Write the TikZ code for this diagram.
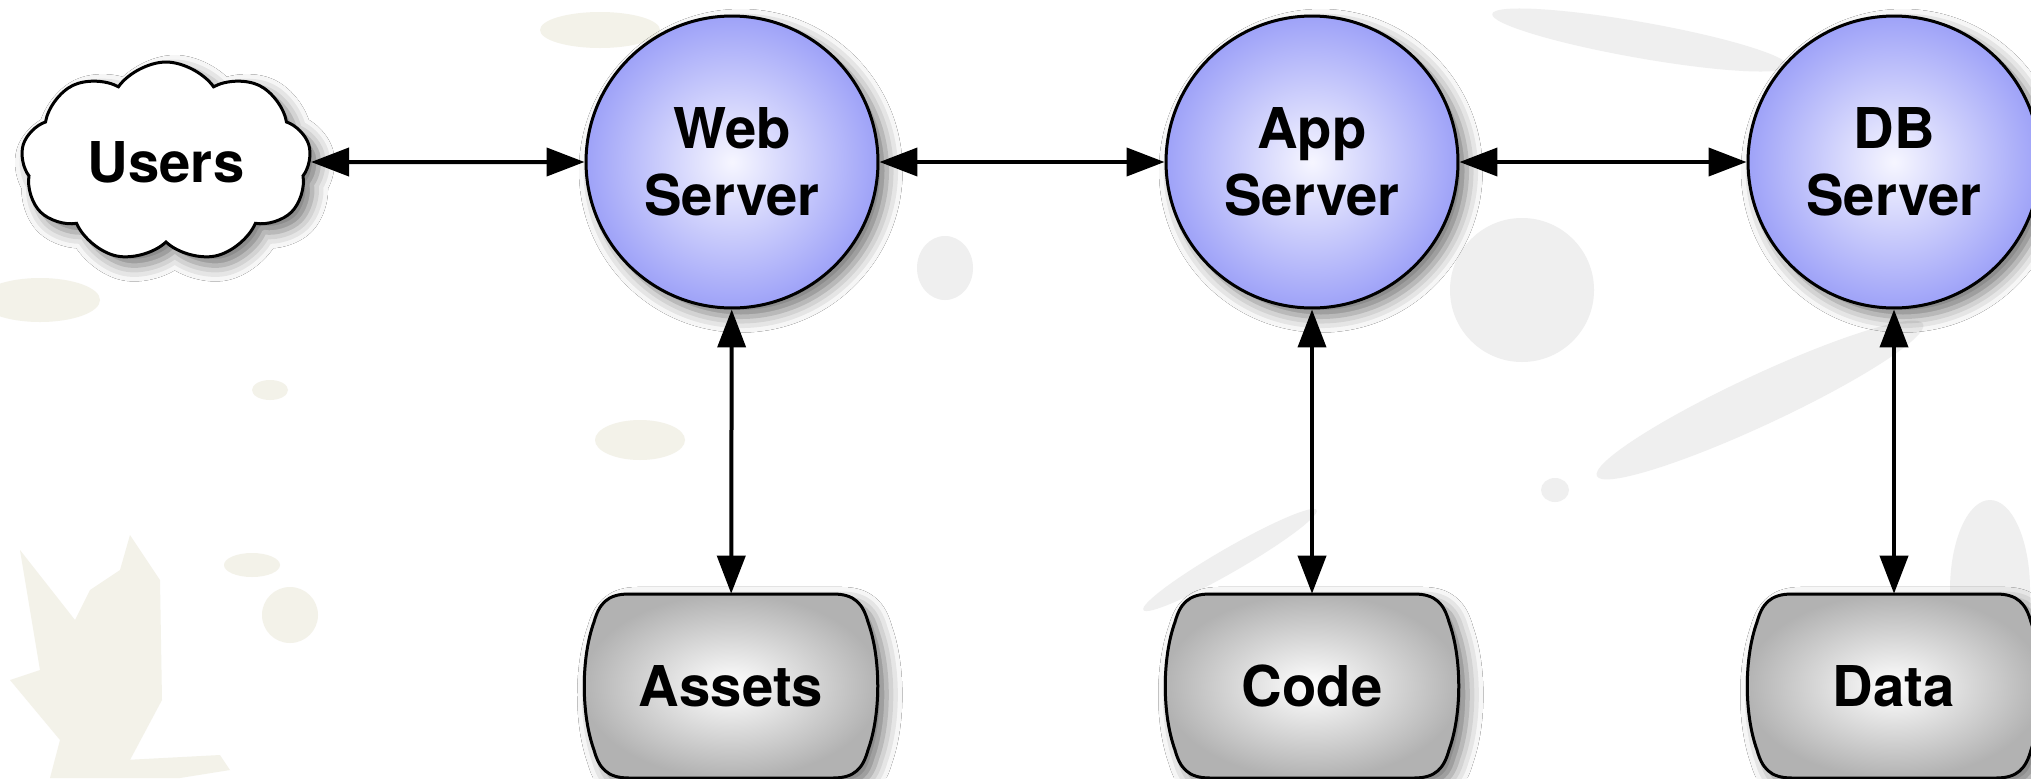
\documentclass[tikz,border=0pt]{standalone}
\usepackage{fontspec}
\setmainfont{TeX Gyre Heros}
\usetikzlibrary{arrows.meta,shapes.symbols,shadows.blur,backgrounds}

\definecolor{srvblue}{RGB}{158,162,248}
\definecolor{srvcenter}{RGB}{246,246,255}
\definecolor{storegray}{RGB}{178,178,178}
\definecolor{splatbeige}{RGB}{243,242,233}
\definecolor{splatgray}{RGB}{239,239,239}

\tikzset{
	labelfont/.style={font=\fontsize{32}{38}\selectfont\bfseries},
	soft shadow/.style={blur shadow={shadow xshift=5pt, shadow yshift=-5pt, shadow blur radius=9pt, shadow opacity=55}},
	server/.style={circle, draw=black, line width=0.06cm, minimum size=5.84cm, inner sep=0pt,
		inner color=srvcenter, outer color=srvblue, soft shadow, align=center, labelfont},
	users/.style={cloud, cloud puffs=9, cloud puff arc=110, cloud ignores aspect, draw=black, line width=0.06cm,
		minimum width=5.8cm, minimum height=4cm, fill=white, soft shadow, labelfont},
	store/.style={rectangle, minimum width=5.86cm, minimum height=3.68cm, inner sep=0pt, labelfont},
	link/.style={line width=0.08cm, {Triangle[length=0.76cm, width=0.56cm]}-{Triangle[length=0.76cm, width=0.56cm]}},
	pics/storeshape/.style={code={
		\path[draw=black, line width=0.06cm, inner color=white, outer color=storegray, soft shadow]
			(-102,-92) -- (102,-92)
			.. controls (124,-92) and (132,-82) .. (137,-64)
			.. controls (150,-28) and (150,28) .. (137,64)
			.. controls (132,82) and (124,92) .. (102,92)
			-- (-102,92)
			.. controls (-124,92) and (-132,82) .. (-137,64)
			.. controls (-150,28) and (-150,-28) .. (-137,-64)
			.. controls (-132,-82) and (-124,-92) .. (-102,-92) -- cycle;
	}}
}

\begin{document}
\begin{tikzpicture}[x=0.02cm, y=-0.02cm]
	\useasboundingbox (0,0) rectangle (2031,778);
	\clip (0,0) rectangle (2031,778);

	% Nodos
	\node[users] (users) at (166,162) {Users};
	\node[server] (web) at (732,162) {Web\\Server};
	\node[server] (app) at (1312,162) {App\\Server};
	\node[server] (db) at (1894,162) {DB\\Server};

	\node[store] (assets) at (731,686) {Assets};
	\node[store] (code) at (1312,686) {Code};
	\node[store] (data) at (1894,686) {Data};

	% Fondo y almacenes
	\begin{scope}[on background layer]
		\fill[white] (0,0) rectangle (2031,778);
		\fill[splatbeige] (20,550) -- (75,620) -- (90,590) -- (120,570) -- (130,535) -- (160,580)
			-- (162,700) -- (130,760) -- (125,778) -- (50,778) -- (60,740) -- (10,680) -- (40,670) -- cycle;
		\fill[splatbeige] (125,760) -- (220,755) -- (230,770) -- (180,778) -- (125,778) -- cycle;
		\fill[splatbeige] (290,615) ellipse (28 and 28);
		\fill[splatbeige] (252,565) ellipse (28 and 12);
		\fill[splatbeige] (640,440) ellipse (45 and 20);
		\fill[splatbeige] (40,300) ellipse (60 and 22);
		\fill[splatbeige] (600,30) ellipse (60 and 18);
		\fill[splatbeige] (270,390) ellipse (18 and 10);
		\fill[splatgray] (945,268) ellipse (28 and 32);
		\fill[splatgray] (1522,290) ellipse (72 and 72);
		\fill[splatgray] (1555,490) ellipse (14 and 12);
		\fill[splatgray, rotate around={25:(1760,400)}] (1760,400) ellipse (180 and 25);
		\fill[splatgray, rotate around={-10:(1640,40)}] (1640,40) ellipse (150 and 18);
		\fill[splatgray, rotate around={30:(1230,560)}] (1230,560) ellipse (100 and 12);
		\fill[splatgray] (1990,590) ellipse (40 and 90);
		\pic at (assets) {storeshape};
		\pic at (code) {storeshape};
		\pic at (data) {storeshape};
	\end{scope}

	% Aristas
	\draw[link] (users) -- (web);
	\draw[link] (web) -- (app);
	\draw[link] (app) -- (db);
	\draw[link] (web) -- (assets);
	\draw[link] (app) -- (code);
	\draw[link] (db) -- (data);

\end{tikzpicture}
\end{document}
